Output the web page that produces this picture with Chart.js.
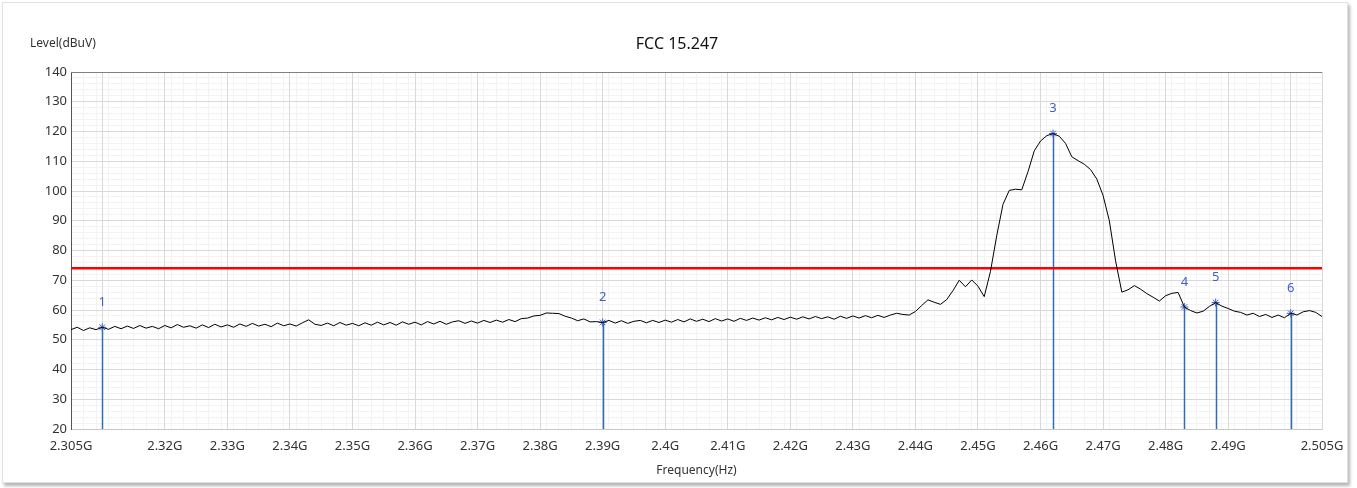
<!DOCTYPE html>
<html>
<head>
<meta charset="utf-8">
<script src="https://cdn.jsdelivr.net/npm/chart.js@4.4.1/dist/chart.umd.min.js"></script>
<style>
  body { margin: 0; background: #fff; }
  #frame { position: absolute; left: 2px; top: 2px; width: 1344px; height: 479px;
           border: 1px solid #e2e2e2; box-shadow: 2px 3px 3px #b5b5b5; background: #fff; }
  #myChart { position: absolute; left: 0; top: 0; }
</style>
</head>
<body>
<div id="frame"></div>
<canvas id="myChart" width="1357" height="488"></canvas>
<script>
// sweep: 2.305 GHz .. 2.505 GHz, 1 MHz per point
var sweepStart = 2.305;
var sweepStep = 0.001;

// measured level (dBuV), one value per sweep point
var levels = [
  53.4, 54.2, 53.1, 54.0, 53.4, 54.2, 53.5, 54.5, 53.7, 54.6,
  53.8, 54.8, 53.9, 54.5, 53.7, 54.8, 54.0, 55.1, 54.2, 54.7,
  53.9, 55.0, 54.1, 55.2, 54.3, 55.0, 54.2, 55.3, 54.5, 55.5,
  54.6, 55.2, 54.4, 55.6, 54.7, 55.3, 54.6, 55.7, 56.7, 55.2,
  54.8, 55.6, 54.7, 55.8, 54.9, 55.5, 54.7, 55.7, 54.9, 55.9,
  55.0, 55.8, 54.9, 56.0, 55.2, 55.9, 55.0, 56.1, 55.3, 56.2,
  55.2, 56.0, 56.4, 55.5, 56.3, 55.6, 56.5, 55.8, 56.6, 55.9,
  56.8, 56.1, 57.1, 57.3, 58.0, 58.2, 59.0, 58.9, 58.8, 57.9,
  57.3, 56.4, 57.0, 56.0, 56.1, 55.8, 56.5, 55.6, 56.4, 55.5,
  56.2, 56.5, 55.7, 56.5, 55.8, 56.6, 55.9, 56.8, 56.0, 57.0,
  56.2, 56.9, 56.1, 57.1, 56.3, 57.0, 56.2, 57.2, 56.5, 57.3,
  56.6, 57.4, 56.7, 57.5, 56.8, 57.6, 56.9, 57.7, 57.0, 57.8,
  57.1, 57.7, 56.9, 57.9, 57.2, 58.0, 57.3, 58.1, 57.4, 58.2,
  57.5, 58.3, 58.9, 58.5, 58.3, 59.5, 61.5, 63.4, 62.6, 61.9,
  63.5, 66.5, 70.0, 67.8, 70.1, 68.0, 64.5, 73.0, 85.0, 95.5,
  100.2, 100.6, 100.4, 106.5, 113.5, 116.8, 118.6, 119.3, 118.4, 116.0,
  111.5, 110.2, 109.0, 107.2, 104.0, 98.5, 90.0, 76.5, 66.0, 66.8,
  68.2, 67.0, 65.5, 64.3, 63.0, 64.8, 65.6, 65.9, 61.0, 59.8,
  59.0, 59.6, 61.2, 62.5, 61.3, 60.5, 59.6, 59.2, 58.3, 58.9,
  57.8, 58.5, 57.5, 58.3, 57.4, 58.9, 58.3, 59.4, 59.8, 59.2,
  57.8
];

var limitLevel = 74;

var markerNames = ["1", "2", "3", "4", "5", "6"];
var markerFreqs = [2.310, 2.390, 2.462, 2.483, 2.488, 2.500];
var markerLevels = [54.2, 55.8, 119.3, 61.0, 62.5, 58.9];

var xTicks = [2.305, 2.31, 2.32, 2.33, 2.34, 2.35, 2.36, 2.37, 2.38, 2.39, 2.40,
              2.41, 2.42, 2.43, 2.44, 2.45, 2.46, 2.47, 2.48, 2.49, 2.50, 2.505];
var xTickLabels = ["2.305G", "", "2.32G", "2.33G", "2.34G", "2.35G", "2.36G", "2.37G",
                   "2.38G", "2.39G", "2.4G", "2.41G", "2.42G", "2.43G", "2.44G", "2.45G",
                   "2.46G", "2.47G", "2.48G", "2.49G", "", "2.505G"];

var fontFamily = '"Noto Sans", "Open Sans", sans-serif';

var trace = [];
for (var i = 0; i < levels.length; i++) {
  trace.push({ x: sweepStart + i * sweepStep, y: levels[i] });
}

var markerPoints = [];
for (var m = 0; m < markerFreqs.length; m++) {
  markerPoints.push({ x: markerFreqs[m], y: markerLevels[m] });
}

// blue marker lines, numbers, titles and top border
var decorPlugin = {
  id: "decor",
  beforeDatasetsDraw: function(chart) {
    var ctx = chart.ctx;
    var xs = chart.scales.x, ys = chart.scales.y;
    ctx.save();
    ctx.strokeStyle = "#2f6db5";
    ctx.lineWidth = 1.5;
    for (var k = 0; k < markerFreqs.length; k++) {
      var px = Math.round(xs.getPixelForValue(markerFreqs[k])) + 0.5;
      ctx.beginPath();
      ctx.moveTo(px, ys.getPixelForValue(20));
      ctx.lineTo(px, ys.getPixelForValue(markerLevels[k]));
      ctx.stroke();
    }
    ctx.restore();
  },
  afterDraw: function(chart) {
    var ctx = chart.ctx;
    var xs = chart.scales.x, ys = chart.scales.y;
    var area = chart.chartArea;
    ctx.save();
    // top border
    ctx.strokeStyle = "#808080";
    ctx.lineWidth = 1;
    ctx.beginPath();
    ctx.moveTo(area.left, area.top + 0.5);
    ctx.lineTo(area.right, area.top + 0.5);
    ctx.stroke();

    ctx.fillStyle = "#3d5fc4";
    ctx.font = "13px " + fontFamily;
    ctx.textAlign = "center";
    ctx.textBaseline = "middle";
    for (var k = 0; k < markerNames.length; k++) {
      ctx.fillText(markerNames[k], xs.getPixelForValue(markerFreqs[k]),
                   ys.getPixelForValue(markerLevels[k]) - 25);
    }

    ctx.fillStyle = "#111";
    ctx.font = "16px " + fontFamily;
    ctx.fillText("FCC 15.247", 677, 44);

    ctx.fillStyle = "#333";
    ctx.font = "12px " + fontFamily;
    ctx.textAlign = "left";
    ctx.fillText("Level(dBuV)", 30, 44);
    ctx.restore();
  }
};

var ctx = document.getElementById("myChart");

var chart = new Chart(ctx, {
  type: "line",
  data: {
    datasets: [
      {
        label: "Level",
        data: trace,
        borderColor: "#000",
        borderWidth: 1,
        pointRadius: 0,
        tension: 0
      },
      {
        label: "Limit",
        data: [{ x: sweepStart, y: limitLevel }, { x: 2.505, y: limitLevel }],
        borderColor: "#ff0000",
        borderWidth: 2.5,
        pointRadius: 0
      },
      {
        label: "Markers",
        data: markerPoints,
        showLine: false,
        pointStyle: "star",
        pointRadius: 4,
        borderColor: "#3d5fc4",
        backgroundColor: "#3d5fc4",
        borderWidth: 1
      }
    ]
  },
  options: {
    responsive: false,
    animation: false,
    layout: { padding: { top: 72, right: 35, left: 0, bottom: 0 } },
    plugins: {
      legend: { display: false },
      tooltip: { enabled: false }
    },
    scales: {
      x2: {
        type: "linear",
        position: "bottom",
        min: 2.305,
        max: 2.505,
        ticks: { display: false, stepSize: 0.002 },
        grid: {
          drawTicks: false,
          color: function(c) {
            var v = Math.round(c.tick.value * 1000);
            return (v % 10 === 0 || v === 2305 || v === 2505) ? "rgba(0,0,0,0)" : "#f3f3f3";
          }
        },
        border: { display: false },
        afterFit: function(s) { s.height = 0; }
      },
      y2: {
        type: "linear",
        position: "left",
        min: 20,
        max: 140,
        ticks: { display: false, stepSize: 2 },
        grid: {
          drawTicks: false,
          color: function(c) {
            return (Math.round(c.tick.value) % 10 === 0) ? "rgba(0,0,0,0)" : "#f3f3f3";
          }
        },
        border: { display: false },
        afterFit: function(s) { s.width = 0; }
      },
      x: {
        type: "linear",
        position: "bottom",
        min: 2.305,
        max: 2.505,
        afterBuildTicks: function(s) {
          s.ticks = xTicks.map(function(v) { return { value: v }; });
        },
        ticks: {
          autoSkip: false,
          maxRotation: 0,
          padding: 9,
          color: "#333",
          font: { size: 13, family: fontFamily },
          callback: function(v, i) { return xTickLabels[i]; }
        },
        grid: { color: "#d9d9d9", drawTicks: false },
        border: { color: "#c8c8c8" },
        title: {
          display: true,
          text: "Frequency(Hz)",
          color: "#333",
          font: { size: 12, family: fontFamily },
          padding: { top: 0, bottom: 10 }
        },
        afterFit: function(s) { s.height = 59; }
      },
      y: {
        type: "linear",
        min: 20,
        max: 140,
        ticks: {
          stepSize: 10,
          padding: 4,
          color: "#333",
          font: { size: 13, family: fontFamily }
        },
        grid: { color: "#d9d9d9", drawTicks: false },
        border: { color: "#555" },
        afterFit: function(s) { s.width = 71; }
      }
    }
  },
  plugins: [decorPlugin]
});
</script>
</body>
</html>
